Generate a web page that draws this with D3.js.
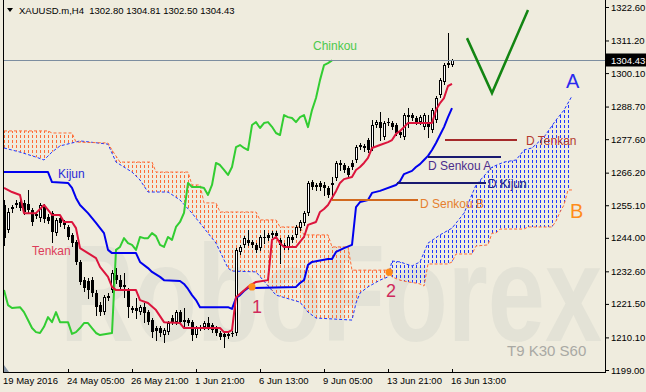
<!DOCTYPE html>
<html>
<head>
<meta charset="utf-8">
<script src="https://cdn.jsdelivr.net/npm/d3@7"></script>
<style>
	body { margin: 0; background: #efecde; }
	svg { display: block; font-family: "Liberation Sans", Arial, sans-serif; }
</style>
</head>
<body>
<div id="chart"></div>
<script>
// H4 bars, 19 May - 16 Jun 2016 (bar index 0..112)
const barOpen = [
	1255.2, 1246.7, 1253.8, 1255.2, 1256.2, 1255.9, 1255.5, 1253.5, 1252.1, 1250.7,
	1254.8, 1251.1, 1252.5, 1245.6, 1250.7, 1249.4, 1247.7, 1245.0, 1242.6, 1235.8,
	1229.6, 1229.3, 1229.6, 1225.2, 1221.1, 1218.7, 1224.2, 1226.2, 1231.3, 1229.6,
	1227.9, 1226.2, 1220.1, 1220.1, 1218.7, 1220.4, 1218.7, 1216.0, 1213.3, 1213.3,
	1210.9, 1211.9, 1216.7, 1215.3, 1218.7, 1216.0, 1216.0, 1215.3, 1210.9, 1213.7,
	1213.7, 1215.0, 1214.3, 1213.3, 1211.6, 1211.3, 1211.3, 1211.3, 1211.6, 1239.2,
	1241.6, 1243.3, 1242.6, 1241.6, 1240.5, 1244.3, 1245.0, 1245.0, 1245.6, 1243.3,
	1241.6, 1240.9, 1244.3, 1245.0, 1247.3, 1249.1, 1252.5, 1263.0, 1262.0, 1262.7,
	1262.0, 1261.0, 1262.7, 1264.4, 1269.5, 1268.8, 1267.8, 1269.5, 1270.5, 1274.9,
	1275.3, 1277.3, 1274.6, 1282.4, 1283.4, 1278.3, 1283.1, 1283.1, 1282.4, 1280.0,
	1278.3, 1285.8, 1285.8, 1284.8, 1283.4, 1281.7, 1283.4, 1280.7, 1284.1, 1292.6,
	1297.1, 1302.8, 1302.80
];
const barHigh = [
	1256.9, 1254.2, 1255.2, 1256.9, 1257.9, 1256.9, 1260.3, 1254.2, 1252.8, 1255.9,
	1255.5, 1252.1, 1253.1, 1250.7, 1251.8, 1250.1, 1248.4, 1245.6, 1243.3, 1236.5,
	1230.7, 1230.3, 1230.7, 1226.2, 1222.1, 1224.5, 1225.2, 1233.0, 1233.7, 1231.3,
	1232.0, 1226.9, 1220.8, 1223.5, 1221.1, 1221.8, 1219.4, 1216.7, 1214.0, 1214.0,
	1213.3, 1215.7, 1217.7, 1219.4, 1219.4, 1220.1, 1216.7, 1216.0, 1214.0, 1214.3,
	1215.7, 1217.0, 1215.0, 1214.0, 1212.3, 1211.9, 1211.9, 1212.3, 1240.5, 1241.6,
	1244.6, 1246.7, 1243.3, 1242.2, 1245.0, 1246.7, 1245.6, 1246.3, 1246.3, 1243.9,
	1242.2, 1245.0, 1245.0, 1248.4, 1250.1, 1253.1, 1263.3, 1263.7, 1262.7, 1263.3,
	1263.0, 1261.7, 1264.7, 1270.2, 1270.5, 1269.5, 1268.5, 1270.5, 1275.6, 1276.3,
	1275.9, 1278.0, 1284.1, 1284.1, 1286.8, 1283.8, 1284.8, 1283.8, 1283.1, 1280.7,
	1286.5, 1288.2, 1286.5, 1285.5, 1285.8, 1286.5, 1285.8, 1288.2, 1292.3, 1298.4,
	1303.5, 1313.7, 1304.81
];
const barLow = [
	1241.6, 1246.0, 1252.8, 1254.5, 1253.5, 1252.1, 1252.4, 1248.4, 1250.7, 1249.7,
	1249.4, 1249.1, 1242.6, 1245.0, 1248.0, 1247.3, 1243.6, 1241.2, 1235.1, 1228.3,
	1225.9, 1223.5, 1224.2, 1217.7, 1217.7, 1218.1, 1222.8, 1225.6, 1228.6, 1226.2,
	1223.8, 1217.0, 1218.7, 1216.7, 1218.1, 1215.3, 1214.7, 1210.2, 1209.2, 1210.6,
	1208.5, 1211.3, 1214.7, 1214.7, 1214.7, 1213.3, 1214.3, 1209.2, 1210.2, 1212.6,
	1213.0, 1213.0, 1211.9, 1210.9, 1209.6, 1206.8, 1209.9, 1210.6, 1210.9, 1238.5,
	1240.9, 1241.6, 1240.9, 1239.2, 1239.9, 1242.2, 1243.3, 1244.3, 1243.9, 1235.4,
	1240.2, 1240.2, 1242.6, 1244.3, 1246.7, 1248.4, 1251.8, 1260.6, 1260.3, 1260.3,
	1258.6, 1257.9, 1257.6, 1263.7, 1267.1, 1266.4, 1264.7, 1267.4, 1269.8, 1274.2,
	1273.6, 1273.2, 1273.9, 1281.7, 1277.3, 1277.6, 1282.4, 1281.1, 1279.0, 1278.3,
	1277.6, 1281.7, 1284.1, 1282.8, 1282.8, 1281.1, 1278.3, 1280.0, 1283.4, 1291.9,
	1296.4, 1302.2, 1302.50
];
const barClose = [
	1244.0, 1252.8, 1254.5, 1255.9, 1254.2, 1252.8, 1253.5, 1249.4, 1251.4, 1255.2,
	1250.4, 1249.7, 1246.0, 1250.1, 1249.1, 1248.4, 1244.3, 1242.2, 1235.8, 1229.0,
	1226.9, 1226.2, 1225.2, 1220.4, 1218.7, 1223.8, 1223.5, 1232.0, 1229.6, 1227.3,
	1227.3, 1220.4, 1219.4, 1219.1, 1220.4, 1218.4, 1215.3, 1211.9, 1212.3, 1211.6,
	1212.6, 1215.0, 1215.3, 1218.7, 1215.3, 1215.3, 1215.0, 1210.9, 1213.3, 1213.3,
	1215.0, 1213.7, 1212.6, 1211.6, 1210.2, 1210.2, 1210.6, 1211.6, 1239.9, 1240.9,
	1243.9, 1242.2, 1241.6, 1239.9, 1244.3, 1243.9, 1243.9, 1245.6, 1244.6, 1241.6,
	1240.9, 1244.3, 1243.3, 1247.7, 1249.4, 1252.5, 1262.7, 1261.3, 1261.3, 1261.3,
	1261.0, 1258.6, 1262.0, 1269.5, 1268.8, 1267.1, 1265.4, 1268.1, 1274.9, 1275.6,
	1274.6, 1273.9, 1282.4, 1283.4, 1281.4, 1283.1, 1283.4, 1281.8, 1279.7, 1279.0,
	1285.8, 1285.1, 1284.8, 1283.4, 1285.1, 1285.8, 1281.7, 1287.5, 1291.6, 1297.7,
	1302.8, 1303.5, 1304.43
];

// Ichimoku lines, [bar, price] vertices
const tenkan = [
	[0, 1261.0], [2, 1259.6], [4, 1258.6], [5, 1252.4], [8, 1252.4], [10, 1255.2], [12, 1251.8],
	[14, 1251.8], [15, 1249.4], [17, 1249.4], [18, 1247.3], [19, 1240.5], [21, 1238.8], [23, 1237.1],
	[24, 1234.1], [26, 1230.7], [27, 1227.3], [28, 1226.2], [33, 1226.2], [34, 1222.8], [36, 1221.8],
	[38, 1219.4], [40, 1215.3], [44, 1215.0], [45, 1213.3], [54, 1213.3], [55, 1211.9], [56, 1211.9],
	[57, 1212.6], [58, 1223.8], [61, 1227.3], [63, 1229.0], [66, 1229.6], [67, 1243.3], [68, 1244.3],
	[69, 1242.2], [70, 1240.9], [73, 1240.9], [75, 1244.3], [76, 1248.4], [78, 1249.4], [79, 1252.8],
	[80, 1253.8], [81, 1255.2], [82, 1257.6], [83, 1259.9], [84, 1262.7], [85, 1264.0], [87, 1264.7],
	[88, 1267.1], [89, 1268.1], [90, 1269.5], [91, 1271.2], [92, 1274.6], [94, 1275.6], [96, 1276.6],
	[97, 1277.3], [98, 1279.4], [99, 1280.4], [100, 1281.7], [101, 1283.1], [107, 1283.1], [108, 1287.5],
	[109, 1289.9], [110, 1291.6], [111, 1295.7], [112, 1296.4]
];
const kijun = [
	[0, 1266.4], [11, 1266.4], [12, 1263.0], [16, 1262.7], [17, 1261.0], [18, 1257.6], [19, 1255.2],
	[21, 1252.4], [23, 1249.1], [25, 1245.6], [26, 1239.9], [27, 1238.8], [33, 1238.8], [34, 1235.8],
	[36, 1233.7], [37, 1232.4], [39, 1230.7], [40, 1229.6], [44, 1229.3], [45, 1228.3], [46, 1226.6],
	[47, 1224.5], [48, 1222.8], [49, 1220.4], [56, 1220.4], [57, 1219.8], [58, 1223.5], [59, 1224.5],
	[60, 1225.9], [61, 1226.9], [73, 1227.3], [74, 1228.6], [75, 1229.6], [76, 1234.8], [77, 1235.8],
	[81, 1236.8], [82, 1236.8], [83, 1239.2], [85, 1240.5], [87, 1241.6], [88, 1254.5], [89, 1256.2],
	[91, 1256.9], [92, 1259.3], [94, 1260.0], [98, 1262.0], [99, 1263.3], [100, 1265.7], [102, 1266.8],
	[103, 1268.1], [104, 1269.1], [105, 1270.5], [106, 1271.9], [107, 1273.9], [108, 1276.3],
	[109, 1279.0], [110, 1281.7], [111, 1285.1], [112, 1288.2]
];
const chinkou = [
	[0, 1226.2], [1, 1221.1], [2, 1220.1], [4, 1220.4], [5, 1218.7], [6, 1216.0], [7, 1213.3], [8, 1211.9],
	[9, 1211.6], [10, 1213.7], [11, 1217.0], [12, 1215.3], [13, 1218.7], [14, 1215.3], [16, 1215.3],
	[17, 1211.3], [18, 1211.9], [19, 1213.3], [20, 1215.0], [21, 1215.0], [22, 1213.3], [23, 1211.6],
	[24, 1210.9], [27, 1211.6], [28, 1239.9], [29, 1240.9], [30, 1243.9], [31, 1242.2], [32, 1241.6],
	[33, 1239.9], [34, 1244.3], [35, 1243.9], [36, 1243.9], [37, 1245.6], [38, 1244.6], [39, 1241.6],
	[40, 1240.9], [41, 1244.3], [42, 1243.3], [43, 1247.7], [44, 1249.4], [45, 1252.5], [46, 1262.7],
	[47, 1261.3], [49, 1261.3], [50, 1261.0], [51, 1258.6], [52, 1262.0], [53, 1269.5], [54, 1268.8],
	[55, 1267.1], [56, 1265.4], [57, 1268.1], [58, 1274.9], [59, 1275.6], [60, 1274.6], [61, 1273.9],
	[62, 1282.4], [63, 1283.4], [64, 1281.4], [65, 1283.1], [66, 1283.4], [67, 1281.8], [68, 1279.7],
	[69, 1279.0], [70, 1285.8], [71, 1285.1], [72, 1284.8], [73, 1283.4], [74, 1285.1], [75, 1285.8],
	[76, 1281.7], [77, 1287.5], [78, 1291.6], [79, 1297.7], [80, 1302.8], [81, 1303.5], [82, 1304.4]
];
const senkouA = [
	[0, 1274.6], [4, 1273.2], [8, 1271.5], [10, 1270.5], [12, 1273.2], [14, 1275.3], [17, 1276.3],
	[19, 1277.0], [26, 1275.9], [28, 1269.8], [32, 1266.4], [34, 1263.7], [36, 1259.6], [41, 1259.6],
	[44, 1256.9], [47, 1252.4], [51, 1245.6], [53, 1242.2], [56, 1233.7], [57, 1232.7], [63, 1232.4],
	[68, 1224.5], [74, 1222.1], [76, 1218.7], [78, 1216.7], [87, 1216.0], [88, 1221.8], [89, 1225.2],
	[91, 1227.3], [94, 1229.6], [96, 1230.7], [97, 1236.1], [99, 1235.8], [102, 1234.4], [104, 1235.8],
	[106, 1242.2], [109, 1245.0], [112, 1247.3], [115, 1252.4], [118, 1262.0], [122, 1268.1],
	[125, 1269.8], [128, 1270.5], [130, 1273.9], [132, 1274.6], [135, 1278.3], [138, 1284.1],
	[140, 1287.5], [142, 1292.3]
];
const senkouB = [
	[0, 1280.4], [11, 1280.4], [12, 1279.7], [17, 1279.7], [18, 1276.6], [26, 1276.3], [27, 1273.9],
	[29, 1269.8], [37, 1269.8], [38, 1266.4], [46, 1266.4], [47, 1262.0], [49, 1262.0], [50, 1255.9],
	[53, 1255.9], [54, 1252.8], [63, 1252.8], [64, 1250.1], [68, 1250.1], [69, 1247.7], [74, 1247.7],
	[75, 1245.0], [81, 1245.0], [82, 1240.9], [86, 1240.9], [87, 1233.0], [96, 1233.0], [97, 1230.7],
	[99, 1229.6], [101, 1229.0], [103, 1228.6], [104, 1228.3], [105, 1227.6], [106, 1235.1],
	[111, 1235.1], [112, 1235.8], [113, 1238.5], [117, 1238.5], [118, 1241.2], [121, 1241.6],
	[122, 1245.6], [123, 1245.6], [124, 1247.0], [130, 1247.0], [131, 1247.7], [137, 1247.7],
	[138, 1249.7], [139, 1252.8], [140, 1255.2], [141, 1260.3], [142, 1260.3]
];
const kumoTwist = [96.3, 1232.3];
const tkCross = [62, 1227.3];

// hand-drawn levels and projection
const levelNames = ["D Tenkan", "D Senkou A", "D Kijun", "D Senkou B"];
const levelPrices = [1277.4, 1271.4, 1262.7, 1256.9];
const levelFrom = [110.25, 106, 98.25, 82];
const levelTo = [128.25, 124.25, 120.5, 103.5];
const swingV = [[115.75, 1312.0], [122, 1293.3], [131, 1321.6]];

const priceTicks = [1199.00, 1210.10, 1221.50, 1232.60, 1244.00, 1255.10, 1266.20, 1277.60, 1288.70, 1300.10, 1311.20, 1322.60];
const timeTickBars = [0, 16, 32, 48, 64, 80, 96, 112];
const timeTickLabels = ["19 May 2016", "24 May 05:00", "26 May 21:00", "1 Jun 21:00", "6 Jun 13:00", "9 Jun 05:00", "13 Jun 21:00", "16 Jun 13:00"];
const lastPrice = 1304.43;
const header = "XAUUSD.m,H4  1302.80 1304.81 1302.50 1304.43";

const W = 646, H = 392;
const bg = "#efecde";

const x = d3.scaleLinear().domain([0, 150]).range([4, 604]);
const y = d3.scaleLinear().domain([1199, 1322.6]).range([370, 7]);
const px = b => Math.round(x(b)) + 0.5;
const line = d3.line().x(d => x(d[0])).y(d => y(d[1]));

const svg = d3.select("#chart").append("svg")
	.attr("width", W)
	.attr("height", H);

svg.append("rect").attr("width", W).attr("height", H).attr("fill", bg);

const defs = svg.append("defs");
defs.append("clipPath").attr("id", "plotClip")
	.append("rect").attr("x", 4).attr("y", 0).attr("width", 601).attr("height", 372);

function hatch(id, color) {
	const p = defs.append("pattern")
		.attr("id", id)
		.attr("patternUnits", "userSpaceOnUse")
		.attr("x", 4).attr("y", 0)
		.attr("width", 4).attr("height", 5);
	p.append("rect").attr("x", 0).attr("y", 0).attr("width", 1).attr("height", 3).attr("fill", color);
}
hatch("hatchOrange", "#ff6b35");
hatch("hatchBlue", "#1f35ff");

// watermark
svg.append("text")
	.attr("x", 60).attr("y", 341)
	.attr("font-size", 138)
	.attr("font-weight", "bold")
	.attr("textLength", 542)
	.attr("lengthAdjust", "spacingAndGlyphs")
	.attr("fill", "#e3e2d6")
	.text("RoboForex");

svg.append("text")
	.attr("x", 507).attr("y", 356)
	.attr("font-size", 15)
	.attr("fill", "#a9a9a4")
	.text("T9 K30 S60");

const plot = svg.append("g").attr("clip-path", "url(#plotClip)");

// kumo, split at the twist
const orangePoly = senkouA.filter(d => d[0] < kumoTwist[0])
	.concat([kumoTwist], senkouB.filter(d => d[0] < kumoTwist[0]).reverse());
const bluePoly = [kumoTwist].concat(senkouA.filter(d => d[0] > kumoTwist[0]),
	senkouB.filter(d => d[0] > kumoTwist[0]).reverse());

plot.append("path").attr("d", line(orangePoly) + "Z").attr("fill", "url(#hatchOrange)");
plot.append("path").attr("d", line(bluePoly) + "Z").attr("fill", "url(#hatchBlue)");

plot.append("path").attr("d", line(senkouA))
	.attr("fill", "none").attr("stroke", "#1f35ff").attr("stroke-width", 1).attr("stroke-dasharray", "3,2");
plot.append("path").attr("d", line(senkouB))
	.attr("fill", "none").attr("stroke", "#ff6b35").attr("stroke-width", 1).attr("stroke-dasharray", "3,2");

// last price line
const lpY = Math.round(y(lastPrice)) + 0.5;
svg.append("line")
	.attr("x1", 4).attr("x2", 606).attr("y1", lpY).attr("y2", lpY)
	.attr("stroke", "#7d8ea0").attr("stroke-width", 1);

// candles
const candles = d3.range(barOpen.length).map(i => ({ i: i, o: barOpen[i], h: barHigh[i], l: barLow[i], c: barClose[i] }));
const cg = plot.append("g").attr("shape-rendering", "crispEdges");

cg.selectAll("line")
	.data(candles)
	.join("line")
	.attr("x1", d => px(d.i)).attr("x2", d => px(d.i))
	.attr("y1", d => Math.round(y(d.h)))
	.attr("y2", d => Math.round(y(d.l)) + 1)
	.attr("stroke", "#000");

cg.selectAll("rect")
	.data(candles)
	.join("rect")
	.each(function(d) {
		const yo = Math.round(y(d.o)), yc = Math.round(y(d.c)), cx = Math.round(x(d.i));
		const s = d3.select(this);
		if (d.c > d.o && yo - yc >= 2) {
			s.attr("x", cx - 0.5).attr("y", yc + 0.5)
				.attr("width", 2).attr("height", yo - yc - 1)
				.attr("fill", "#fff").attr("stroke", "#000");
		} else {
			s.attr("x", cx - 1).attr("y", Math.min(yo, yc))
				.attr("width", 3).attr("height", Math.max(1, Math.abs(yo - yc)))
				.attr("fill", "#000");
		}
	});

// ichimoku lines
[[chinkou, "#32cd32"], [kijun, "#0000ee"], [tenkan, "#dc143c"]].forEach(function(s) {
	plot.append("path")
		.attr("d", line(s[0]))
		.attr("fill", "none")
		.attr("stroke", s[1])
		.attr("stroke-width", 2)
		.attr("stroke-linejoin", "round");
});

// cross markers
[tkCross, kumoTwist].forEach(function(p) {
	plot.append("circle")
		.attr("cx", x(p[0])).attr("cy", y(p[1])).attr("r", 3.6)
		.attr("fill", "#ff8c1a");
});

// D levels
const levelStyle = [
	{ line: "#a52a2a", text: "#b33a30", tx: (a, b) => b + 9, dy: 5 },
	{ line: "#191970", text: "#4b2c8c", tx: (a, b) => a, dy: 13 },
	{ line: "#191970", text: "#24248a", tx: (a, b) => b + 2, dy: 5 },
	{ line: "#d2691e", text: "#e5802f", tx: (a, b) => b + 2, dy: 8 }
];
levelNames.forEach(function(name, i) {
	const ly = Math.round(y(levelPrices[i]));
	const x0 = x(levelFrom[i]), x1 = x(levelTo[i]);
	svg.append("line")
		.attr("x1", x0).attr("x2", x1).attr("y1", ly).attr("y2", ly)
		.attr("stroke", levelStyle[i].line).attr("stroke-width", 2);
	svg.append("text")
		.attr("x", levelStyle[i].tx(x0, x1)).attr("y", ly + levelStyle[i].dy)
		.attr("font-size", 12)
		.attr("fill", levelStyle[i].text)
		.text(name);
});

svg.append("path")
	.attr("d", line(swingV))
	.attr("fill", "none")
	.attr("stroke", "#138513")
	.attr("stroke-width", 2.5);

// labels
const labels = [
	["Chinkou", 313, 50, 12, "#4cc94c"],
	["Kijun", 58, 178, 12, "#2a2ad8"],
	["Tenkan", 32, 255, 12, "#dc3c5a"],
	["1", 252, 313, 18, "#cf2a5c"],
	["2", 386, 297, 18, "#cf2a5c"],
	["A", 566, 88, 20, "#2a2aee"],
	["B", 570, 218, 20, "#ff8c1a"]
];
svg.selectAll("text.lbl")
	.data(labels)
	.join("text")
	.attr("class", "lbl")
	.attr("x", d => d[1]).attr("y", d => d[2])
	.attr("font-size", d => d[3])
	.attr("fill", d => d[4])
	.text(d => d[0]);

// frame
const frame = svg.append("g").attr("stroke", "#000").attr("shape-rendering", "crispEdges");
frame.append("line").attr("x1", 3.5).attr("x2", 3.5).attr("y1", 0).attr("y2", 373);
frame.append("line").attr("x1", 605.5).attr("x2", 605.5).attr("y1", 0).attr("y2", 373);
frame.append("line").attr("x1", 3).attr("x2", 606).attr("y1", 372.5).attr("y2", 372.5);

// price axis
const yAxis = svg.append("g")
	.attr("transform", "translate(606,0)")
	.call(d3.axisRight(y).tickValues(priceTicks).tickSize(3).tickSizeOuter(0).tickPadding(2).tickFormat(d3.format(".2f")));
yAxis.select(".domain").remove();
yAxis.selectAll("text").attr("font-size", 9.5).attr("font-family", "Liberation Sans, Arial, sans-serif").attr("fill", "#000");
yAxis.selectAll("line").attr("stroke", "#000");

// last price tag
svg.append("rect").attr("x", 606).attr("y", lpY - 7).attr("width", 40).attr("height", 13).attr("fill", "#000");
svg.append("text")
	.attr("x", 611).attr("y", lpY + 3.5)
	.attr("font-size", 9.5)
	.attr("fill", "#fff")
	.text(d3.format(".2f")(lastPrice));

// time axis
const xAxis = svg.append("g");
timeTickBars.forEach(function(b, i) {
	xAxis.append("line")
		.attr("x1", px(b)).attr("x2", px(b)).attr("y1", 369).attr("y2", 372)
		.attr("stroke", "#000");
	xAxis.append("text")
		.attr("x", Math.round(x(b)) - 1).attr("y", 384)
		.attr("font-size", 9.5)
		.attr("fill", "#000")
		.text(timeTickLabels[i]);
});
svg.append("path").attr("d", "M4,365L4,372L9,372Z").attr("fill", "#8a98a8");

// header
svg.append("path").attr("d", "M7,8L13,8L10,12Z").attr("fill", "#000");
svg.append("text")
	.attr("x", 19).attr("y", 14)
	.attr("font-size", 9.5)
	.attr("fill", "#000")
	.style("white-space", "pre")
	.text(header);
</script>
</body>
</html>
